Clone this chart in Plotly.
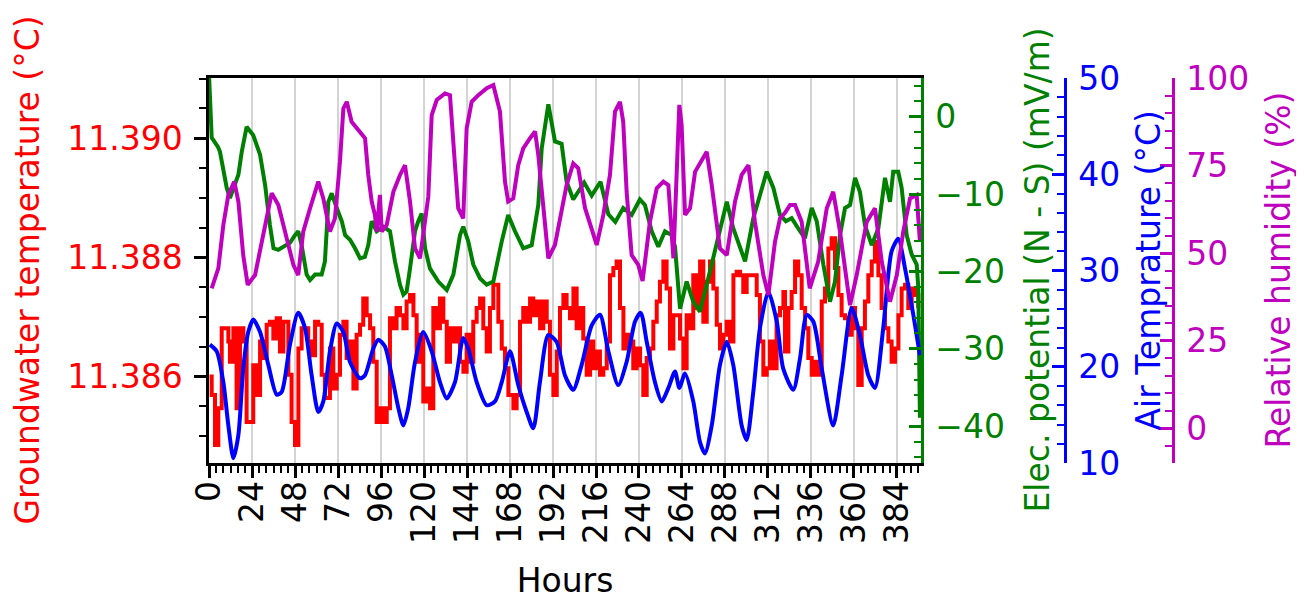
import plotly.graph_objects as go

# ---------------- data ----------------
gw_hours = [0.3, 1.5, 3.35, 5.2, 7.1, 8.9, 10.8, 11.7, 13.6, 15.4, 17.3, 19.2, 21.0, 22.9, 24.7, 26.6, 28.5, 30.3, 32.2, 34.0, 35.9,
            37.8, 39.6, 41.5, 44.3, 46.1, 48.0, 49.9, 51.7, 53.6, 55.4, 57.3, 59.2, 61.0, 62.9, 64.7, 67.5, 69.4, 71.3, 73.1, 75.0, 76.8,
            78.7, 80.6, 82.4, 84.3, 86.1, 88.0, 89.9, 91.7, 93.6, 95.4, 97.3, 99.2, 101.0, 102.9, 104.7, 106.6, 108.5, 110.3, 112.2, 114.1,
            115.9, 117.8, 119.6, 121.5, 123.4, 125.2, 127.1, 128.9, 130.8, 132.7, 134.5, 136.4, 138.2, 140.1, 142.0, 143.8, 145.7, 147.5,
            149.4, 151.3, 153.1, 155.0, 156.8, 158.7,
            159.6, 161.5, 163.4, 165.2, 167.1, 169.9, 171.7, 173.6, 175.4, 177.3, 179.2, 181.0, 182.9, 184.8, 186.6, 188.5, 190.3, 192.2,
            194.1, 195.9, 197.8, 199.6, 201.5, 203.4, 205.2, 207.1, 208.9, 210.8, 212.7, 214.5, 216.4, 218.2, 220.1, 222.0, 223.8, 225.7,
            227.5, 229.4, 231.3, 233.1, 235.0, 236.8, 238.7,
            240.6, 242.4, 244.3, 246.1, 248.0, 249.9, 251.7, 253.6, 255.4, 257.3, 259.2, 261.0, 262.9, 264.8, 266.6, 268.5, 270.3, 272.2,
            274.1, 275.9, 277.8, 279.6, 281.5, 283.4, 285.2, 287.1, 288.9, 290.8, 292.7, 294.5, 296.4, 298.2, 300.1, 302.0, 303.8, 305.7,
            307.5, 309.4, 311.3, 313.1, 315.0, 316.8, 318.7, 320.6,
            321.5, 323.4, 325.2, 327.1, 328.9, 330.8, 332.7, 334.5, 336.4, 338.2, 340.1, 342.0, 343.8, 345.7, 347.5, 349.4, 351.3, 353.1,
            355.0, 356.8, 358.7, 360.6, 362.4, 364.3, 366.1, 368.0, 369.9, 371.7, 373.6, 375.4, 377.3, 379.2, 381.0, 382.9, 384.8, 386.6,
            388.5, 390.3, 392.2, 394.1, 395.9]
gw_temp = [11.38600, 11.38569, 11.38485, 11.38547, 11.38681, 11.38681, 11.38659, 11.38625, 11.38681, 11.38547, 11.38681, 11.38659,
           11.38524, 11.38524, 11.38619, 11.38569, 11.38659, 11.38631, 11.38687, 11.38692, 11.38664, 11.38698, 11.38642, 11.38692,
           11.38603, 11.38524, 11.38485, 11.38647, 11.38681, 11.38681, 11.38659, 11.38636, 11.38692, 11.38687, 11.38603, 11.38564,
           11.38647, 11.38580, 11.38603, 11.38670, 11.38692, 11.38631,
           11.38659, 11.38580, 11.38670, 11.38687, 11.38731, 11.38703, 11.38681, 11.38625, 11.38524, 11.38547, 11.38524, 11.38547,
           11.38698, 11.38681, 11.38715, 11.38703, 11.38681, 11.38726, 11.38737, 11.38703, 11.38625, 11.38670, 11.38558, 11.38580,
           11.38547, 11.38715, 11.38681, 11.38731, 11.38692, 11.38625, 11.38681, 11.38659, 11.38681, 11.38625, 11.38608, 11.38670,
           11.38625, 11.38692, 11.38715, 11.38731, 11.38681, 11.38642, 11.38715, 11.38754,
           11.38754, 11.38692, 11.38647, 11.38614, 11.38569, 11.38547, 11.38569, 11.38692, 11.38715, 11.38692, 11.38731, 11.38703,
           11.38726, 11.38681, 11.38726, 11.38692, 11.38603, 11.38569, 11.38642, 11.38715, 11.38737, 11.38715, 11.38698, 11.38748,
           11.38681, 11.38715, 11.38664, 11.38603, 11.38659, 11.38614, 11.38642, 11.38603, 11.38614, 11.38659, 11.38770, 11.38782,
           11.38793, 11.38715, 11.38647, 11.38670, 11.38659, 11.38614, 11.38647,
           11.38619, 11.38569, 11.38631, 11.38647, 11.38692, 11.38726, 11.38759, 11.38793, 11.38748, 11.38647, 11.38703, 11.38703,
           11.38664, 11.38614, 11.38703, 11.38681, 11.38770, 11.38715, 11.38793, 11.38692, 11.38759, 11.38793, 11.38748, 11.38687,
           11.38647, 11.38670, 11.38692, 11.38659, 11.38770, 11.38776, 11.38770, 11.38742, 11.38770, 11.38770, 11.38770, 11.38737,
           11.38659, 11.38603, 11.38614, 11.38659, 11.38614, 11.38703, 11.38715, 11.38742,
           11.38642, 11.38715, 11.38742, 11.38793, 11.38770, 11.38715, 11.38681, 11.38631, 11.38603, 11.38625, 11.38603, 11.38726,
           11.38748, 11.38815, 11.38832, 11.38782, 11.38737, 11.38703, 11.38698, 11.38670, 11.38715, 11.38681, 11.38586, 11.38681,
           11.38726, 11.38770, 11.38793, 11.38826, 11.38770, 11.38715, 11.38681, 11.38659, 11.38625, 11.38647, 11.38703, 11.38748,
           11.38754, 11.38715, 11.38748, 11.38737, 11.38715]

ep_hours = [0, 1.5, 5, 6.1, 9.9, 11.7, 16.4, 18.3, 21, 24.7, 28.5, 31.3, 34, 36, 38.7, 42.4, 45.2, 48, 49.8, 51.7, 54.5, 56.4, 59.2,
            62.9, 64.7, 66.6, 68.5, 71.3, 74.1, 76, 78.7, 81.5, 84.3, 87, 88.9, 90.8, 93.6, 97.3, 101, 103.8, 106.6, 108.5, 110.3,
            112.2, 115, 116.8, 118.7, 120.6, 123.3, 128, 132.7, 136.4, 140.1, 141.9, 144.7, 147.5, 151.3, 155, 158.7, 163.4, 167,
            170.8, 175.4, 180.1, 183.8, 185.7, 189.4, 193.1, 196.8, 199.6, 203.3, 209.4, 213.6, 218.5, 222.9, 226.8, 231.2, 235.9,
            240.5, 243.3, 247.1, 250.8, 254.5, 258.2, 260.1, 262.9, 266.6, 270.3, 274, 279.6, 285.2, 289, 292.6, 299.2, 303.8,
            307.5, 311.3, 315, 318.7, 322, 325.2, 329.9, 332.6, 336.4, 339.2, 342.9, 346.6, 349.4, 352.2, 355, 357.8, 360.6, 363.3,
            366.1, 369.9, 373.6, 377.3, 380.1, 381.9, 384.7, 386.6, 389.4, 392.2, 395, 395.9, 396.8]
elec_pot = [5.5, -2.7, -3.9, -4.5, -9.2, -10.5, -7.5, -4.5, -1.3, -2.4, -4.9, -8.8, -14, -17, -17.2, -16.6, -16.3, -15.3, -14.8,
            -16.6, -20.4, -21.1, -20.4, -20.4, -18.7, -11, -9.9, -11.8, -13.5, -15.3, -15.9, -17, -18.3, -18.1, -16.6, -13.5, -14.8,
            -14.2, -14.8, -18.7, -21.7, -23, -22.6, -19.6, -14.8, -13.5, -12.5, -17, -19.6, -21.3, -22.4, -20.4, -15.3, -14.2, -16.1,
            -19.1, -20.9, -21.7, -21.3, -16.1, -12.7, -14.8, -17, -16.6, -11.4, -4.1, 1.6, -3.2, -3.5, -8.4, -10.7, -8.5, -10.2, -8.4,
            -12.6, -13.6, -11.8, -12.7, -10.7, -11.4, -14.8, -16.8, -14.8, -15.3, -16.8, -24.8, -21.3, -23.9, -25.2, -20, -14.4, -11,
            -14.4, -18.7, -13.1, -10.1, -7.1, -9.2, -12.7, -13.5, -13.1, -14.8, -15.7, -11.8, -13.5, -19.1, -23.9, -21.3, -15.3,
            -11.8, -11.4, -7.9, -9.7, -14, -16.6, -14.4, -7.9, -11, -7.1, -7.1, -9.2, -15.3, -17.8, -19.1, -22.1, -38.9]

at_hours = [0.5, 4.3, 8, 10.8, 13.6, 16.4, 19.1, 21.9, 24.7, 28.5, 33.1, 37.8, 40.6, 45.2, 49.8, 53.6, 57.3, 61, 63.8, 67.5, 71.3,
            75, 78.7, 84.3, 87, 91.7, 94.5, 98.2, 102, 105.7, 108.5, 111.2, 115, 119.6, 124.3, 128.9, 132.7, 137.3, 141.9, 144.7,
            149.4, 155, 159.6, 163.4, 168, 172.6, 177.3, 181, 184.7, 189.4, 194, 198.7, 203.3, 208, 213.6, 218.2, 222.9, 228.4,
            233.1, 237.8, 241, 244.3, 248.9, 252.7, 256.4, 260.1, 262.5, 265.7, 270.3, 274, 276.8, 280.6, 285.2, 289, 292.6, 297.3,
            300.1, 303.8, 307.5, 312.2, 316.9, 320.5, 326.1, 329.9, 333.6, 337.3, 342, 348.4, 353.1, 358.7, 363.3, 368, 371.7,
            376.3, 381, 384.7, 388.5, 393.1, 396.8]
air_temp = [22.3, 21.6, 18.4, 13.9, 10.5, 12.9, 19.8, 23.6, 24.9, 23.6, 20.2, 17.1, 17.4, 22.3, 25.6, 24, 19.1, 15.3, 16.4, 21.6,
            24.5, 23.6, 20.5, 18.8, 19.1, 21.9, 22.8, 22.1, 19.1, 15.7, 13.9, 15.7, 20.5, 23.6, 21.6, 18.4, 16.7, 18.4, 23, 21.9,
            18.4, 16, 16.4, 18.4, 21.6, 18.1, 15.3, 13.6, 18.4, 23.3, 22.6, 19.1, 17.6, 20.2, 24.3, 25.4, 21.6, 18.1, 20.5, 24.7,
            25.6, 22.6, 18.4, 16.4, 17.8, 19.5, 17.8, 19.3, 16.4, 12.2, 11, 13.9, 20.2, 22.6, 20.2, 13.9, 12.4, 17.4, 24, 27.8,
            24.7, 19.8, 17.6, 20.9, 25.4, 24.7, 19.8, 13.9, 19.1, 26.1, 23.3, 19.1, 17.8, 24, 32, 33.3, 30.2, 25.4, 21.2]

rh_hours = [1.5, 5.2, 8, 10.8, 14.1, 16.4, 19.1, 21.6, 25.7, 29.4, 32.2, 35, 38.7, 43.4, 47.1, 49.8, 52.6, 56.4, 61, 63.8, 67.5,
            70.3, 73.1, 75, 76.9, 79.6, 83.3, 87.1, 88.9, 90.8, 92.6, 93.6, 95.4, 96.4, 99.2, 102.9, 106.6, 109.4, 112.2, 115,
            117.8, 120.6, 122.4, 124.3, 127.1, 131.7, 134.5, 137.3, 139.1, 141.9, 143.8, 146.6, 150.3, 155, 158.7, 162.4, 165.2,
            167, 169.8, 172.6, 175.4, 179.2, 182, 183.8, 187.5, 189.4, 193.1, 195.9, 199.6, 203.3, 206.1, 209.9, 213.6, 216.4,
            220.1, 223.8, 226.6, 229.4, 231.2, 233.1, 235.9, 239.6, 242, 246.1, 249.9, 253.6, 256.4, 259.2, 261, 262.5, 263.8,
            265.7, 268.5, 271.3, 277.8, 280.6, 285.2, 289, 293.6, 297.3, 301.1, 304.7, 309.4, 312.2, 315.9, 318.7, 321.5, 324.3,
            327.1, 330.8, 335.3, 340, 344.8, 348.4, 352.2, 357.8, 361.5, 367.1, 371.7, 375.5, 380.1, 383.9, 387.5, 391.3, 395,
            396.8]
rel_hum = [39.9, 45.6, 58, 66.6, 70.4, 64.7, 49.4, 40.9, 43.7, 53.2, 60.9, 67.1, 63.7, 54.2, 46.6, 43.7, 56.1, 62.8, 70.4, 65.6,
           56.1, 59.9, 76.1, 91.3, 93.2, 87.5, 85.1, 82.8, 72.3, 64.7, 60.9, 56.1, 66.6, 56.1, 58, 67.5, 72.3, 75.1, 64.7, 51.3,
           48.5, 59.9, 66.1, 89.4, 93.7, 95.6, 95.1, 75.1, 62.8, 59.9, 85.6, 93.2, 95.1, 97.1, 98, 90.4, 70.4, 64.7, 65.6, 75.1,
           79.9, 82.8, 84.7, 78, 58, 48.5, 52.3, 59.9, 69.4, 75.6, 74.2, 62.8, 57.1, 52.3, 60.9, 72.3, 90.4, 93.2, 87.5, 67.5,
           49.4, 46.6, 42, 58.9, 68.5, 70.4, 69.4, 48.5, 72.3, 92.3, 86.6, 60.9, 62.8, 73.2, 78.9, 69.4, 51.3, 49.4, 64.7, 72.3,
           75.1, 58.9, 43.7, 38, 53.2, 59.9, 61.5, 63.7, 63.7, 58.9, 39.9, 47.5, 62.8, 67.5, 56.1, 35.1, 43.7, 58.9, 62.8, 47.5,
           36.1, 43.7, 56.1, 65.6, 66.6, 53.2]

hour_ticks = [0, 24, 48, 72, 96, 120, 144, 168, 192, 216, 240, 264, 288, 312, 336, 360, 384]
gw_ticks = [11.386, 11.388, 11.390]
ep_ticks = [0, -10, -20, -30, -40]
at_ticks = [10, 20, 30, 40, 50]
rh_ticks = [0, 25, 50, 75, 100]

# ---------------- styling ----------------
FONT = "DejaVu Sans"
FS = 33
RED, GREEN, BLUE, MAG = "#ff0000", "#008000", "#0000ff", "#bf00bf"
# the page body has an 8px margin, so the figure is 8px smaller than the window
W, H = 1296, 592
L, R, T, B = 201, 131, 70, 137
plot_w = W - L - R
dom_right = (913 - L) / plot_w
pos_blue = (1057 - L) / plot_w
LW = 4


def px2paper(px):
    return (px - L) / plot_w


fig = go.Figure()
fig.add_trace(go.Scatter(x=gw_hours, y=gw_temp, mode="lines", xaxis="x", yaxis="y",
                         line=dict(color=RED, width=LW, shape="hv"), showlegend=False))
fig.add_trace(go.Scatter(x=ep_hours, y=elec_pot, mode="lines", xaxis="x", yaxis="y2",
                         line=dict(color=GREEN, width=LW), showlegend=False))
fig.add_trace(go.Scatter(x=at_hours, y=air_temp, mode="lines", xaxis="x", yaxis="y3",
                         line=dict(color=BLUE, width=LW, shape="spline", smoothing=0.7), showlegend=False))
fig.add_trace(go.Scatter(x=rh_hours, y=rel_hum, mode="lines", xaxis="x", yaxis="y4",
                         line=dict(color=MAG, width=LW), showlegend=False))


def yax(color, tickvals, rng, minor_dtick, side, ticks, fmt=None, tickline="black", **kw):
    d = dict(
        range=rng, tickvals=tickvals, ticks=ticks, ticklen=12, tickwidth=2.5, tickcolor=tickline,
        showline=True, linecolor=tickline, linewidth=2.5, showgrid=False, zeroline=False,
        tickfont=dict(family=FONT, size=FS, color=color), side=side, automargin=False,
        minor=dict(ticks=ticks, ticklen=7, tickwidth=2, tickcolor=tickline, dtick=minor_dtick,
                   tick0=tickvals[0], showgrid=False),
    )
    if fmt:
        d["tickformat"] = fmt
    d.update(kw)
    return d


fig.update_layout(
    width=W, height=H, template="none",
    margin=dict(l=L, r=R, t=T, b=B, pad=0),
    paper_bgcolor="white", plot_bgcolor="white",
    font=dict(family=FONT, size=FS),
    xaxis=dict(
        domain=[0, dom_right], range=[0, 397.4], tickvals=hour_ticks, tickangle=-90,
        ticks="outside", ticklen=12, tickwidth=2.5, tickcolor="black",
        showline=True, linecolor="black", linewidth=2.5, mirror=True,
        showgrid=True, gridcolor="rgba(170,170,170,0.5)", gridwidth=2, zeroline=False,
        tickfont=dict(family=FONT, size=FS, color="black"), automargin=False, anchor="y",
        ticklabelstandoff=-10,
        minor=dict(ticks="outside", ticklen=7, tickwidth=2, tickcolor="black", dtick=4, tick0=0, showgrid=False),
        title=dict(text="Hours", font=dict(family=FONT, size=FS, color="black"), standoff=26),
    ),
    yaxis=yax(RED, gw_ticks, [11.38455, 11.39101], 0.0005, "left", "outside",
              fmt=".3f", anchor="x", ticklabelstandoff=5),
    yaxis2=yax(GREEN, ep_ticks, [-44.74, 5.0], 2, "right", "inside",
               tickline=GREEN, overlaying="y", anchor="x", ticklabelstandoff=5),
    yaxis3=yax(BLUE, at_ticks, [10, 50], 2, "right", "inside",
               tickline=BLUE, overlaying="y", anchor="free", position=pos_blue, ticklabelstandoff=5),
    yaxis4=yax(MAG, rh_ticks, [-10, 100], 5, "right", "inside",
               tickline=MAG, overlaying="y", anchor="free", position=1.0, ticklabelstandoff=5),
)

# vertical axis titles, placed where the reference shows them
titles = [
    ("Groundwater temperature (°C)", RED, 19),
    ("Elec. potential (N - S) (mV/m)", GREEN, 1029),
    ("Air Temprature (°C)", BLUE, 1140),
    ("Relative humidity (%)", MAG, 1270),
]
for text, color, xpx in titles:
    fig.add_annotation(text=text, xref="paper", yref="paper", x=px2paper(xpx), y=0.5,
                       xanchor="center", yanchor="middle", textangle=-90, showarrow=False,
                       font=dict(family=FONT, size=FS, color=color))

fig.write_html("out.html")
